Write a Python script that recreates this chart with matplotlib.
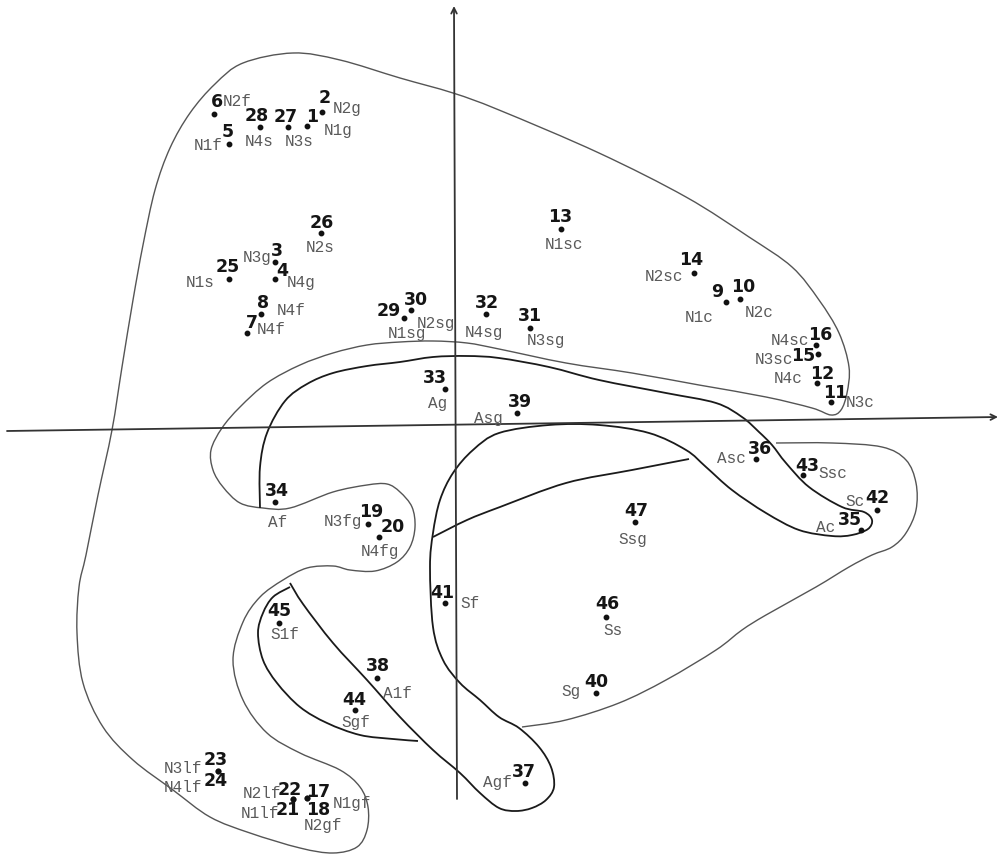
import matplotlib
matplotlib.use("Agg")
import matplotlib.pyplot as plt
from matplotlib.path import Path
from matplotlib.patches import PathPatch
import numpy as np

# point number, label and position on the factor plane (scan units, y down)
nums = [6, 5, 28, 27, 1, 2, 26, 3, 4, 25, 8, 7, 29, 30, 32, 33, 13, 14, 9, 10,
        31, 16, 15, 12, 11, 39, 36, 43, 42, 35, 47, 46, 40, 37, 34, 19, 20, 45,
        41, 38, 44, 23, 24, 22, 21, 17, 18]
labels = ["N2f", "N1f", "N4s", "N3s", "N1g", "N2g", "N2s", "N3g", "N4g", "N1s",
          "N4f", "N4f", "N1sg", "N2sg", "N4sg", "Ag", "N1sc", "N2sc", "N1c", "N2c",
          "N3sg", "N4sc", "N3sc", "N4c", "N3c", "Asg", "Asc", "Ssc", "Sc", "Ac",
          "Ssg", "Ss", "Sg", "Agf", "Af", "N3fg", "N4fg", "S1f",
          "Sf", "A1f", "Sgf", "N3lf", "N4lf", "N2lf", "N1lf", "N1gf", "N2gf"]
px = [214, 229, 260, 288, 307, 322, 321, 275, 275, 229, 261, 247, 404, 411, 486, 445, 561, 694, 726, 740,
      530, 816, 818, 817, 831, 517, 756, 803, 877, 861, 635, 606, 596, 525, 275, 368, 379, 279,
      445, 377, 355, 218, 218, 293, 293, 307, 307]
py = [114, 144, 127, 127, 126, 112, 233, 262, 279, 279, 314, 333, 318, 310, 314, 389, 229, 273, 302, 299,
      328, 345, 354, 383, 402, 413, 459, 475, 510, 530, 522, 617, 693, 783, 502, 524, 537, 623,
      603, 678, 710, 771, 771, 799, 799, 798, 798]

# text placement (pixel offsets from the dot, y down)
numOff = [(3, -12), (-1, -12), (-3, -11), (-2, -10), (5, -9), (3, -14), (1, -10), (2, -11), (7, -8), (-1, -12),
          (2, -11), (5, -10), (-15, -7), (5, -10), (1, -11), (-10, -11), (-1, -12), (-3, -13), (-9, -10), (3, -12),
          (0, -12), (4, -10), (-15, 2), (5, -9), (4, -9), (3, -11), (4, -10), (4, -9), (0, -12), (-11, -10),
          (1, -11), (1, -13), (0, -11), (-1, -11), (2, -11), (3, -12), (14, -10), (0, -12),
          (-3, -10), (1, -12), (-1, -10), (-2, -11), (-2, 10), (-3, -9), (-5, 11), (11, -6), (11, 12)]
labOff = [(9, -13, "left"), (-6, 1, "right"), (-1, 15, "center"), (11, 15, "center"), (17, 4, "left"),
          (11, -3, "left"), (-1, 14, "center"), (-3, -5, "right"), (12, 3, "left"), (-14, 3, "right"),
          (16, -4, "left"), (10, -4, "left"), (3, 15, "center"), (25, 13, "center"), (-2, 18, "center"),
          (-7, 14, "center"), (3, 15, "center"), (-11, 3, "right"), (-27, 15, "center"), (19, 13, "center"),
          (16, 12, "center"), (-7, -5, "right"), (-25, 5, "right"), (-14, -5, "right"), (15, 0, "left"),
          (-14, 5, "right"), (-10, -1, "right"), (15, -2, "left"), (-12, -9, "right"), (-26, -3, "right"),
          (-2, 17, "center"), (7, 13, "center"), (-15, -2, "right"), (-13, -1, "right"), (3, 20, "center"),
          (-6, -3, "right"), (1, 14, "center"), (6, 11, "center"), (15, 0, "left"), (6, 15, "left"),
          (1, 12, "center"), (-16, -3, "right"), (-16, 16, "right"), (-12, -6, "right"), (-14, 14, "right"),
          (26, 5, "left"), (16, 27, "center")]

# hand drawn group contours (scan units)
contourN = [(293, 53), (340, 60), (400, 78), (453, 93), (499, 110), (599, 153), (686, 197), (749, 237),
            (792, 267), (819, 300), (839, 333), (849, 367), (847, 393), (841, 410), (831, 415), (812, 408),
            (766, 397), (699, 385), (632, 373), (566, 363), (499, 349), (467, 343), (433, 341), (400, 342),
            (367, 345), (333, 353), (300, 365), (267, 383), (240, 407), (222, 428), (211, 450), (213, 470),
            (223, 487), (240, 503), (263, 508), (290, 508), (333, 492), (367, 485), (387, 484), (400, 492),
            (412, 507), (415, 527), (410, 547), (397, 562), (375, 571), (350, 570), (333, 566), (307, 568),
            (283, 580), (260, 597), (243, 622), (233, 660), (243, 700), (267, 733), (300, 753), (340, 770),
            (360, 787), (368, 807), (367, 830), (357, 847), (333, 853), (300, 848), (250, 833), (210, 817),
            (173, 790), (133, 760), (103, 727), (83, 683), (77, 633), (79, 587), (86, 555), (98, 495),
            (112, 430), (122, 367), (133, 300), (143, 245), (155, 190), (170, 148), (190, 113), (215, 84),
            (243, 63)]
contourA = [(260, 508), (260, 467), (267, 433), (285, 401), (307, 384), (333, 373), (367, 366), (400, 362),
            (433, 357), (467, 356), (499, 358), (549, 367), (599, 380), (666, 393), (716, 403), (742, 417),
            (759, 432), (772, 445), (786, 463), (809, 487), (842, 507), (864, 512), (872, 520), (868, 529),
            (852, 535), (832, 536), (799, 530), (766, 513), (732, 490), (706, 467), (686, 450), (649, 433),
            (599, 425), (549, 425), (499, 433), (473, 450), (453, 473), (440, 500), (433, 533), (430, 567),
            (433, 627), (443, 660), (460, 683), (480, 700), (499, 717), (519, 728), (539, 747), (551, 767),
            (554, 787), (546, 800), (532, 808), (516, 811), (499, 808), (480, 793), (460, 773), (433, 750),
            (400, 717), (367, 680), (333, 643), (303, 604), (290, 583)]
contourS = [(776, 443), (832, 443), (882, 447), (906, 460), (916, 483), (916, 510), (906, 533), (892, 547),
            (872, 555), (849, 567), (816, 587), (766, 615), (742, 630), (716, 650), (666, 680), (619, 703),
            (566, 720), (522, 727)]
splitS = [(433, 537), (467, 520), (500, 507), (566, 483), (632, 470), (689, 459)]
contourSgf = [(290, 587), (273, 597), (263, 613), (258, 633), (263, 660), (277, 683), (300, 707),
              (327, 723), (360, 735), (393, 739), (418, 741)]


def smoothPath(pts, closed=False):
	p = np.asarray(pts, dtype=float)
	if closed:
		ext = np.vstack([p[-1], p, p[0], p[1]])
	else:
		ext = np.vstack([p[0], p, p[-1]])
	verts = [ext[1]]
	codes = [Path.MOVETO]
	for i in range(1, len(ext) - 2):
		p0, p1, p2, p3 = ext[i - 1], ext[i], ext[i + 1], ext[i + 2]
		verts += [p1 + (p2 - p0) / 6, p2 - (p3 - p1) / 6, p2]
		codes += [Path.CURVE4] * 3
	return Path(verts, codes)


fig = plt.figure(figsize=(9.99, 8.55), dpi=100)
ax = fig.add_axes([0, 0, 1, 1])
ax.set_xlim(0, 999)
ax.set_ylim(855, 0)
ax.axis('off')

# factor axes
ax.annotate('', xy=(998, 417), xytext=(7, 431),
            arrowprops=dict(arrowstyle='->', lw=1.3, color='#333333', shrinkA=0, shrinkB=0))
ax.annotate('', xy=(454, 6), xytext=(457, 799),
            arrowprops=dict(arrowstyle='->', lw=1.3, color='#333333', shrinkA=0, shrinkB=0))

for pts, closed, col, lw in [(contourN, True, '#555555', 1.0), (contourA, False, '#1a1a1a', 1.3),
                             (contourS, False, '#555555', 1.0), (splitS, False, '#1a1a1a', 1.3),
                             (contourSgf, False, '#1a1a1a', 1.3)]:
	ax.add_patch(PathPatch(smoothPath(pts, closed), facecolor='none', edgecolor=col, lw=lw))

ax.plot(px, py, 'o', color='#111111', markersize=3.2, zorder=5)

for i in range(len(nums)):
	dx, dy = numOff[i]
	ax.annotate(str(nums[i]), (px[i], py[i]), xytext=(dx, -dy), textcoords='offset pixels',
	            ha='center', va='center', fontsize=12.5, fontweight='bold',
	            family='DejaVu Sans', color='#151515', zorder=6)
	lx, ly, ha = labOff[i]
	ax.annotate(labels[i], (px[i], py[i]), xytext=(lx, -ly), textcoords='offset pixels',
	            ha=ha, va='center', fontsize=11.5, family='Liberation Mono',
	            color='#5a5a5a', zorder=6)

fig.savefig('out.png', dpi=100)
